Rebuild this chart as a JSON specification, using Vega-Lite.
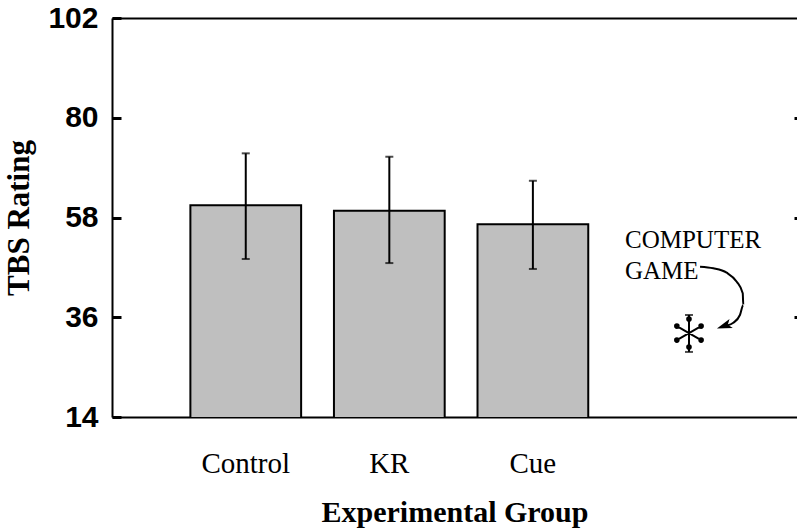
{
  "$schema": "https://vega.github.io/schema/vega-lite/v6.json",
  "width": 685,
  "height": 399,
  "autosize": "none",
  "padding": {"left": 112, "top": 18, "right": 0, "bottom": 114},
  "background": "white",
  "config": {
    "view": {"stroke": null},
    "axis": {"grid": false, "domainColor": "black", "tickColor": "black", "labelColor": "black", "titleColor": "black"}
  },
  "datasets": {
    "groups": [
      {"group": "Control", "mean": 60.7, "lo": 48.85, "hi": 72.15},
      {"group": "KR", "mean": 59.5, "lo": 47.95, "hi": 71.4},
      {"group": "Cue", "mean": 56.5, "lo": 46.65, "hi": 66.1}
    ],
    "game": [
      {"label": "Computer Game", "pos": 4.157, "mean": 32.5, "lo": 28.35, "hi": 36.5}
    ],
    "arrow": [
      {"order": 1, "pos": 4.236, "y": 47.15},
      {"order": 2, "pos": 4.331, "y": 46.8},
      {"order": 3, "pos": 4.426, "y": 45.83},
      {"order": 4, "pos": 4.498, "y": 43.84},
      {"order": 5, "pos": 4.541, "y": 41.28},
      {"order": 6, "pos": 4.545, "y": 38.7},
      {"order": 7, "pos": 4.521, "y": 36.5},
      {"order": 8, "pos": 4.474, "y": 34.8},
      {"order": 9, "pos": 4.43, "y": 34.2}
    ],
    "arrowhead": [
      {"pos": 4.41, "y": 34.1}
    ],
    "notes": [
      {"text": "COMPUTER", "pos": 3.7, "y": 51.34},
      {"text": "GAME", "pos": 3.7, "y": 44.44}
    ]
  },
  "layer": [
    {
      "data": {"name": "groups"},
      "encoding": {
        "x": {
          "field": "group",
          "type": "nominal",
          "sort": null,
          "scale": {"paddingInner": 0.2286, "paddingOuter": 1.061, "align": 0.273},
          "axis": {
            "orient": "bottom",
            "labelAngle": 0,
            "ticks": false,
            "domainWidth": 2,
            "labelFont": "Liberation Serif",
            "labelFontSize": 29,
            "labelPadding": 32,
            "title": "Experimental Group",
            "titleFont": "Liberation Serif",
            "titleFontSize": 30,
            "titleFontWeight": "bold",
            "titlePadding": 19
          }
        }
      },
      "layer": [
        {
          "mark": {"type": "bar", "fill": "#bfbfbf", "stroke": "black", "strokeWidth": 2, "clip": true},
          "encoding": {
            "y": {
              "field": "mean",
              "type": "quantitative",
              "scale": {"domain": [14, 102], "nice": false, "zero": false},
              "axis": {
                "orient": "left",
                "values": [14, 36, 58, 80, 102],
                "tickSize": -9,
                "tickWidth": 3,
                "domainWidth": 2,
                "labelFont": "Liberation Sans",
                "labelFontWeight": "bold",
                "labelFontSize": 30,
                "labelPadding": 23,
                "title": "TBS Rating",
                "titleFont": "Liberation Serif",
                "titleFontSize": 31,
                "titleFontWeight": "bold",
                "titlePadding": 12
              }
            }
          }
        },
        {
          "mark": {"type": "rule", "color": "black", "strokeWidth": 2},
          "encoding": {
            "y": {"field": "lo", "type": "quantitative"},
            "y2": {"field": "hi"}
          }
        },
        {
          "mark": {"type": "tick", "color": "black", "thickness": 2, "size": 8},
          "encoding": {"y": {"field": "lo", "type": "quantitative"}}
        },
        {
          "mark": {"type": "tick", "color": "black", "thickness": 2, "size": 8},
          "encoding": {"y": {"field": "hi", "type": "quantitative"}}
        }
      ]
    },
    {
      "layer": [
        {
          "data": {"name": "game"},
          "mark": {"type": "rule", "color": "black", "strokeWidth": 2},
          "encoding": {
            "x": {"field": "pos", "type": "quantitative", "scale": {"domain": [0.0357, 4.9286], "nice": false, "zero": false},
                  "axis": {"orient": "top", "labels": false, "ticks": false, "domainWidth": 2, "title": null}},
            "y": {"field": "lo", "type": "quantitative", "scale": {"domain": [14, 102], "nice": false, "zero": false},
                  "axis": {"orient": "right", "values": [36, 58, 80], "labels": false, "domain": false, "tickSize": -3, "tickWidth": 3, "title": null}},
            "y2": {"field": "hi"}
          }
        },
        {
          "data": {"name": "game"},
          "mark": {"type": "tick", "color": "black", "thickness": 2, "size": 8, "orient": "horizontal"},
          "encoding": {
            "x": {"field": "pos", "type": "quantitative"},
            "y": {"field": "lo", "type": "quantitative"}
          }
        },
        {
          "data": {"name": "game"},
          "mark": {"type": "tick", "color": "black", "thickness": 2, "size": 8, "orient": "horizontal"},
          "encoding": {
            "x": {"field": "pos", "type": "quantitative"},
            "y": {"field": "hi", "type": "quantitative"}
          }
        },
        {
          "data": {"name": "game"},
          "mark": {
            "type": "point",
            "shape": "M0,-1L0,1M-0.866,-0.5L0.866,0.5M-0.866,0.5L0.866,-0.5M0,-1m-0.13,0a0.13,0.13 0 1,0 0.26,0a0.13,0.13 0 1,0 -0.26,0M0,1m-0.13,0a0.13,0.13 0 1,0 0.26,0a0.13,0.13 0 1,0 -0.26,0M0.866,0.5m-0.13,0a0.13,0.13 0 1,0 0.26,0a0.13,0.13 0 1,0 -0.26,0M-0.866,0.5m-0.13,0a0.13,0.13 0 1,0 0.26,0a0.13,0.13 0 1,0 -0.26,0M0.866,-0.5m-0.13,0a0.13,0.13 0 1,0 0.26,0a0.13,0.13 0 1,0 -0.26,0M-0.866,-0.5m-0.13,0a0.13,0.13 0 1,0 0.26,0a0.13,0.13 0 1,0 -0.26,0",
            "size": 784,
            "filled": true,
            "fill": "black",
            "stroke": "black",
            "strokeWidth": 2,
            "opacity": 1
          },
          "encoding": {
            "x": {"field": "pos", "type": "quantitative"},
            "y": {"field": "mean", "type": "quantitative"}
          }
        },
        {
          "data": {"name": "arrow"},
          "mark": {"type": "line", "color": "black", "strokeWidth": 2, "interpolate": "monotone"},
          "encoding": {
            "x": {"field": "pos", "type": "quantitative"},
            "y": {"field": "y", "type": "quantitative"},
            "order": {"field": "order"}
          }
        },
        {
          "data": {"name": "arrowhead"},
          "mark": {"type": "point", "shape": "M0,-1L0.6,0.9L0,0.45L-0.6,0.9Z", "size": 256, "filled": true, "fill": "black", "opacity": 1, "angle": 250},
          "encoding": {
            "x": {"field": "pos", "type": "quantitative"},
            "y": {"field": "y", "type": "quantitative"}
          }
        },
        {
          "data": {"name": "notes"},
          "mark": {"type": "text", "align": "left", "baseline": "alphabetic", "font": "Liberation Serif", "fontSize": 25, "color": "black"},
          "encoding": {
            "x": {"field": "pos", "type": "quantitative"},
            "y": {"field": "y", "type": "quantitative"},
            "text": {"field": "text"}
          }
        }
      ]
    }
  ],
  "resolve": {"scale": {"x": "independent"}, "axis": {"x": "independent", "y": "independent"}}
}
